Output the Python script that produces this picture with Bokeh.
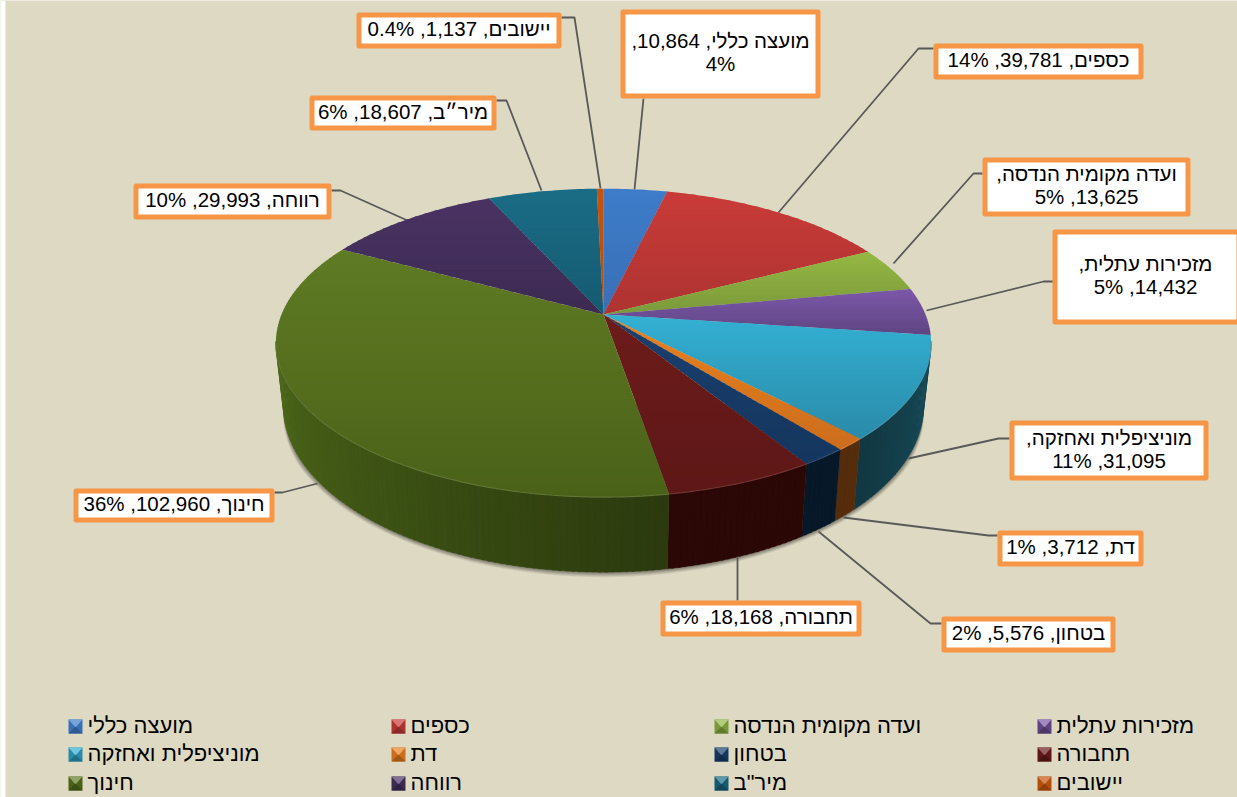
import math
from bokeh.plotting import figure
from bokeh.models import Range1d
from bokeh.core.properties import value as fv
from bokeh.embed import file_html
from bokeh.resources import INLINE

# ---- data ----
names = ["מועצה כללי", "כספים", "ועדה מקומית הנדסה", "מזכירות עתלית",
         "מוניציפלית ואחזקה", "דת", "בטחון", "תחבורה",
         "חינוך", "רווחה", 'מיר"ב', "יישובים"]
label_names = ["מועצה כללי", "כספים", "ועדה מקומית הנדסה", "מזכירות עתלית",
               "מוניציפלית ואחזקה", "דת", "בטחון", "תחבורה",
               "חינוך", "רווחה", "מיר״ב", "יישובים"]
values = [10864, 39781, 13625, 14432, 31095, 3712, 5576, 18168, 102960, 29993, 18607, 1137]
percents = ["4%", "14%", "5%", "5%", "11%", "1%", "2%", "6%", "36%", "10%", "6%", "0.4%"]

# ---- styles ----
BG = "#DDD9C3"
light = ["#3d7cc9", "#c93b38", "#94b743", "#7b57a8", "#33b0d3", "#e8821f",
         "#1a406f", "#6c1c1a", "#5f7b24", "#4a3363", "#1a6c86", "#c4540c"]
dark = ["#3a6fb5", "#ad3331", "#7a983a", "#5d4480", "#2a8aa8", "#cc6d1c",
        "#14365e", "#5e1717", "#4a6118", "#3c2a52", "#155a70", "#b54e0b"]
wall_a = ["#1d3a60", "#641a18", "#465a1c", "#3c2a52", "#164d5b", "#552c0c",
          "#071829", "#2b0806", "#2c3a0e", "#261a38", "#0c3340", "#5a2805"]
wall_b = ["#1d3a60", "#641a18", "#465a1c", "#3c2a52", "#123842", "#552c0c",
          "#071829", "#2b0806", "#4d691a", "#261a38", "#0c3340", "#5a2805"]
LINE = "#595959"
ORANGE = "#F79646"
FONT = "Liberation Sans"

# ---- pie geometry (perspective projection) ----
CX, CY, A, B, K = 603.0, 314.0, 322.0, 149.0, 0.184
BOT_A, BOT_B, DEPTH = 0.977, 1.077, 61.0


def top_pt(deg):
    t = math.radians(deg)
    u, v = math.sin(t), math.cos(t)
    d = 1 + K * v
    return CX + A * u / d, CY - B * v / d


def bot_pt(deg):
    t = math.radians(deg)
    u, v = math.sin(t), math.cos(t)
    d = 1 + K * v
    return CX + BOT_A * A * u / d, CY + DEPTH - BOT_B * B * v / d


def hex2rgb(h):
    return tuple(int(h[i:i + 2], 16) for i in (1, 3, 5))


def mix(c1, c2, t):
    a, b = hex2rgb(c1), hex2rgb(c2)
    return "#%02x%02x%02x" % tuple(round(a[i] + (b[i] - a[i]) * t) for i in range(3))


def clip_y(poly, y0, y1):
    def clip(pts, inside, cross):
        out = []
        for i in range(len(pts)):
            p, q = pts[i], pts[(i + 1) % len(pts)]
            if inside(p):
                out.append(p)
            if inside(p) != inside(q):
                out.append(cross(p, q))
        return out

    def at(y):
        return lambda p, q: (p[0] + (q[0] - p[0]) * (y - p[1]) / (q[1] - p[1]), y)

    r = clip(poly, lambda p: p[1] >= y0, at(y0))
    if r:
        r = clip(r, lambda p: p[1] <= y1, at(y1))
    return r


total = sum(values)
starts, ends, c = [], [], 0
for v in values:
    starts.append(c / total * 360)
    c += v
    ends.append(c / total * 360)


def arc(s, e, step=1.0):
    n = max(2, int(math.ceil((e - s) / step)))
    return [s + (e - s) * i / n for i in range(n + 1)]


p = figure(width=1237, height=797, output_backend="svg", toolbar_location=None,
           x_range=Range1d(0, 1237), y_range=Range1d(797, 0),
           min_border=0, background_fill_color=BG, border_fill_color=BG, outline_line_color=None)
p.axis.visible = False
p.grid.visible = False

# page edge strip on the left
p.quad(left=[0], right=[5], top=[0], bottom=[797], fill_color="white", line_color=None)

# soft shadow under the wall, fading out at both ends of the arc
sx, sy = CX, CY + DEPTH
for e, al in [(5, .10), (4, .12), (3, .14), (2, .16), (1, .2)]:
    xs_, ys_ = [], []
    for d in arc(100, 260, 2):
        x, y = bot_pt(d)
        r = math.hypot(x - sx, y - sy)
        ee = e * min(1.0, (d - 100) / 20, (260 - d) / 20)
        xs_.append(sx + (x - sx) * (1 + ee / r))
        ys_.append(sy + (y - sy) * (1 + ee / r))
    p.patch(xs_, ys_, fill_color="#3c3a30", fill_alpha=al, line_color=None)

# leader lines
leaders = [
    [(643, 98), (634, 189)],
    [(933, 48), (918, 48), (778, 212)],
    [(982, 173), (973, 173), (893, 263)],
    [(1053, 281), (1043, 281), (926, 310)],
    [(1009, 438), (998, 438), (908, 458)],
    [(997, 535), (988, 535), (843, 517)],
    [(941, 623), (930, 623), (818, 531)],
    [(737, 600), (737, 557)],
    [(274, 492), (282, 492), (317, 483)],
    [(331, 190), (340, 190), (407, 220)],
    [(496, 100), (506, 100), (541, 190)],
    [(561, 17), (574, 17), (600, 188)],
]
p.multi_line([[q[0] for q in l] for l in leaders], [[q[1] for q in l] for l in leaders],
             line_color=LINE, line_width=1.8)

# walls
wx, wy, wc = [], [], []
for i in range(len(values)):
    s, e = max(starts[i], 100), min(ends[i], 260)
    if e <= s:
        continue
    a = arc(s, e, 1.0)
    for j in range(len(a) - 1):
        d0, d1 = a[j], min(a[j + 1] + 0.4, e)
        pts = [top_pt(d0), top_pt(d1), bot_pt(d1), bot_pt(d0)]
        wx.append([q[0] for q in pts])
        wy.append([q[1] for q in pts])
        wc.append(mix(wall_a[i], wall_b[i], j / max(1, len(a) - 2)))
p.patches(wx, wy, fill_color=wc, line_color=wc, line_width=0.3)

# top face: each slice shaded in thin horizontal bands
tx, ty, tc = [], [], []
for i in range(len(values)):
    poly = [(CX, CY)] + [top_pt(d) for d in arc(starts[i], ends[i], 1.0)]
    y0 = min(q[1] for q in poly)
    y1 = max(q[1] for q in poly)
    step = 3.0
    y = y0
    while y < y1:
        band = clip_y(poly, y, min(y + step + 0.6, y1))
        if len(band) >= 3:
            tx.append([q[0] for q in band])
            ty.append([q[1] for q in band])
            tc.append(mix(light[i], dark[i], (y - y0) / max(1, y1 - y0)))
        y += step
p.patches(tx, ty, fill_color=tc, line_color=None)

# lighter rim along the visible front edge
for i in range(len(values)):
    s, e = max(starts[i], 100), min(ends[i], 260)
    if e > s:
        pts = [top_pt(d) for d in arc(s, e, 1.0)]
        p.line([q[0] for q in pts], [q[1] for q in pts],
               line_color=mix(dark[i], "#ffffff", 0.12), line_width=1.2)

# callout boxes: outer left, right, top, bottom
boxes = [
    (620, 820, 9, 98), (933, 1143, 43, 79), (982, 1190, 157, 216), (1052, 1241, 229, 324),
    (1009, 1208, 420, 480), (997, 1143, 530, 566), (941, 1115, 616, 652), (660, 861, 600, 636),
    (73, 274, 488, 522), (133, 331, 183, 219), (309, 496, 95, 130), (356, 561, 12, 48),
]
BW = 5
p.quad(left=[b[0] + BW / 2 for b in boxes], right=[b[1] - BW / 2 for b in boxes],
       top=[b[2] + BW / 2 for b in boxes], bottom=[b[3] - BW / 2 for b in boxes],
       fill_color="white", line_color=ORANGE, line_width=BW, line_join="round")

# label texts; break_after says after which comma a label wraps
break_after = [2, 0, 1, 1, 1, 0, 0, 0, 0, 0, 0, 0]
RLE, PDF = "\u202b", "\u202c"
lx, ly, lt = [], [], []
for i, b in enumerate(boxes):
    parts = [label_names[i], f"{values[i]:,}", percents[i]]
    if break_after[i] == 0:
        lines = [", ".join(parts)]
    else:
        k = break_after[i]
        lines = [", ".join(parts[:k]) + ",", ", ".join(parts[k:])]
    mx = min((b[0] + b[1]) / 2, 1145)
    my = (b[2] + b[3]) / 2 - 2
    for n, line in enumerate(lines):
        lx.append(mx)
        ly.append(my + (n - (len(lines) - 1) / 2) * 23)
        lt.append(RLE + line + PDF)
p.text(lx, ly, text=lt, text_align="center", text_baseline="middle",
       text_font=fv(FONT), text_font_size="20.5px", text_color="#000000")

# legend
col_x = [68, 391, 714, 1037]
row_y = [726, 754, 783]
SW = 14
gx, gy, gt = [], [], []
for i, n in enumerate(names):
    x = col_x[i % 4]
    y = row_y[i // 4]
    p.quad(left=[x], right=[x + SW], top=[y - SW / 2], bottom=[y + SW / 2],
           fill_color=dark[i], line_color=None)
    p.patch([x, x + SW, x + SW / 2], [y - SW / 2, y - SW / 2, y + 1],
            fill_color=mix(light[i], "#ffffff", 0.3), line_color=None)
    p.patch([x, x + SW, x + SW / 2], [y + SW / 2, y + SW / 2, y],
            fill_color=mix(dark[i], "#000000", 0.2), line_color=None)
    gx.append(x + SW + 5)
    gy.append(y - 1)
    gt.append(n)
p.text(gx, gy, text=gt, text_align="left", text_baseline="middle",
       text_font=fv(FONT), text_font_size="22px", text_color="#000000")

open("out.html", "w").write(file_html(p, INLINE))
